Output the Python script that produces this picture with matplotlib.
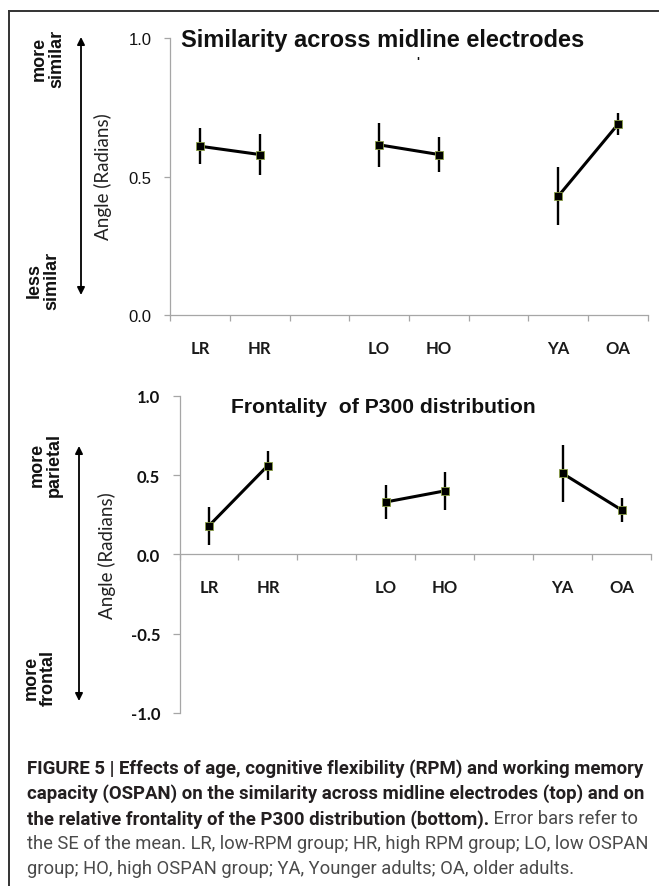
import numpy as np
import matplotlib
matplotlib.use("Agg")
import matplotlib.pyplot as plt
from matplotlib import font_manager
from matplotlib.patches import FancyArrowPatch
from matplotlib.lines import Line2D

# ---------------- data ----------------
categories = ["LR", "HR", "", "LO", "HO", "", "YA", "OA"]

sim_mean = [0.61, 0.58, np.nan, 0.615, 0.58, np.nan, 0.43, 0.69]
sim_err = [0.066, 0.075, np.nan, 0.079, 0.063, np.nan, 0.104, 0.041]

front_mean = [0.18, 0.56, np.nan, 0.33, 0.40, np.nan, 0.51, 0.28]
front_err = [0.12, 0.09, np.nan, 0.105, 0.12, np.nan, 0.18, 0.075]

top_title = "Similarity across midline electrodes"
bottom_title = "Frontality  of P300 distribution"
ylabel = "Angle (Radians)"

caption_bold = ["FIGURE 5 | Effects of age, cognitive flexibility (RPM) and working memory",
                "capacity (OSPAN) on the similarity across midline electrodes (top) and on",
                "the relative frontality of the P300 distribution (bottom)."]
caption_plain = [" Error bars refer to",
                 "the SE of the mean. LR, low-RPM group; HR, high RPM group; LO, low OSPAN",
                 "group; HO, high OSPAN group; YA, Younger adults; OA, older adults."]

# ---------------- fonts ----------------
installed = {f.name for f in font_manager.fontManager.ttflist}
cap_font = "Liberation Sans"
for f in ["Roboto", "Liberation Sans"]:
    if f in installed:
        cap_font = f
        break
arial = "Liberation Sans"
calibri = "Lato"

W, H = 662, 887
fig = plt.figure(figsize=(W / 100, H / 100), dpi=100)


def fx(px):
    return px / W


def fy(py):
    return 1 - py / H


spine_col = "#a6a6a6"
x = np.arange(len(categories)) + 0.5


def setup_axes(ax, ylo, yhi, yticks, tickfont, tickweight, tickpad, ticklen):
    ax.set_xlim(0, len(categories))
    ax.set_ylim(ylo, yhi)
    for s in ["top", "right"]:
        ax.spines[s].set_visible(False)
    for s in ["left", "bottom"]:
        ax.spines[s].set_color(spine_col)
        ax.spines[s].set_linewidth(0.9)
    ax.spines["bottom"].set_position(("data", 0))
    ax.set_xticks(x)
    ax.set_xticklabels(categories, fontfamily=calibri, fontweight="bold", fontsize=12)
    ax.set_xticks(np.arange(len(categories) + 1), minor=True)
    ax.tick_params(axis="x", which="major", length=0, pad=18, colors="#1a1a1a")
    ax.tick_params(axis="x", which="minor", length=4.5, width=0.9, color=spine_col, direction="out")
    ax.set_yticks(yticks)
    ax.set_yticklabels(["%.1f" % v for v in yticks], fontfamily=tickfont,
                       fontweight=tickweight, fontsize=12)
    ax.tick_params(axis="y", length=ticklen, width=0.9, color=spine_col, pad=tickpad,
                   labelcolor="#111111")
    ax.patch.set_visible(False)


def draw_series(ax, mean, err):
    ax.errorbar(x, mean, yerr=err, fmt="none", ecolor="black", elinewidth=1.7, capsize=0)
    ax.plot(x, mean, "-", color="black", lw=2.2, marker="s", ms=5.6,
            mfc="black", mec="#8a9f45", mew=0.6, zorder=3)


# top panel
ax1 = fig.add_axes([fx(170), fy(316), fx(648) - fx(170), fy(39.3) - fy(316)])
setup_axes(ax1, 0, 1.0, [0.0, 0.5, 1.0], arial, "normal", 9, 4.5)
draw_series(ax1, sim_mean, sim_err)

# bottom panel
ax2 = fig.add_axes([fx(179.5), fy(714), fx(651) - fx(179.5), fy(396.7) - fy(714)])
setup_axes(ax2, -1.0, 1.0, [-1.0, -0.5, 0.0, 0.5, 1.0], calibri, "bold", 9, 5)
draw_series(ax2, front_mean, front_err)

# titles
fig.text(fx(383), fy(47), top_title, ha="center", va="baseline",
         fontfamily=arial, fontweight="bold", fontsize=17, color="#111111")
fig.text(fx(418), fy(66), "'", ha="center", va="baseline",
         fontfamily=arial, fontweight="bold", fontsize=9, color="#111111")
fig.text(fx(383), fy(413), bottom_title, ha="center", va="baseline",
         fontfamily=arial, fontweight="bold", fontsize=15.2, color="#111111")

# y labels
fig.text(fx(103), fy(177), ylabel, rotation=90, ha="center", va="center",
         fontfamily=calibri, fontsize=13.5, color="#222222")
fig.text(fx(107), fy(556), ylabel, rotation=90, ha="center", va="center",
         fontfamily=calibri, fontsize=13.5, color="#222222")

# direction annotations
side_notes = [("more\nsimilar", 48, 59), ("less\nsimilar", 43, 281),
              ("more\nparietal", 46, 465), ("more\nfrontal", 40, 678)]
for txt, px, py in side_notes:
    fig.text(fx(px), fy(py), txt, rotation=90, ha="center", va="center",
             multialignment="center", fontfamily=arial, fontweight="bold",
             fontsize=13, linespacing=1.0, color="#111111")

for ax_x, y0, y1 in [(81, 38, 296), (79, 447, 702)]:
    arr = FancyArrowPatch((fx(ax_x), fy(y1)), (fx(ax_x), fy(y0)),
                          transform=fig.transFigure, arrowstyle="<|-|>",
                          mutation_scale=11, color="black", lw=1.3,
                          shrinkA=0, shrinkB=0)
    fig.add_artist(arr)

# frame (left and top edge)
fig.add_artist(Line2D([fx(9), fx(9)], [fy(12), fy(887)], transform=fig.transFigure,
                      color="#333333", lw=1.4))
fig.add_artist(Line2D([fx(9), fx(658)], [fy(12), fy(12)], transform=fig.transFigure,
                      color="#333333", lw=1.4))

# caption: sizes chosen so the bold and plain lines span the text block width
renderer = fig.canvas.get_renderer()
probe = fig.text(0, 0, caption_bold[0], fontfamily=cap_font, fontweight="bold", fontsize=10)
bold_size = 10 * 616 / probe.get_window_extent(renderer=renderer).width
probe.remove()
probe = fig.text(0, 0, caption_plain[1], fontfamily=cap_font, fontsize=10)
plain_size = 10 * 621 / probe.get_window_extent(renderer=renderer).width
probe.remove()

bold_col = "#231f20"
plain_col = "#4a4a4a"
base = [773.5, 799, 824.5, 849.5, 874.5]
for i, t in enumerate(caption_bold):
    tb = fig.text(fx(27), fy(base[i]), t, ha="left", va="baseline",
                  fontfamily=cap_font, fontweight="bold", fontsize=bold_size, color=bold_col)
    if i == 2:
        bb = tb.get_window_extent(renderer=renderer)
        fig.text(bb.x1 / W, fy(base[i]), caption_plain[0], ha="left", va="baseline",
                 fontfamily=cap_font, fontsize=plain_size, color=plain_col)
for j, t in enumerate(caption_plain[1:]):
    fig.text(fx(27), fy(base[3 + j]), t, ha="left", va="baseline",
             fontfamily=cap_font, fontsize=plain_size, color=plain_col)

fig.savefig("out.png", dpi=100)
